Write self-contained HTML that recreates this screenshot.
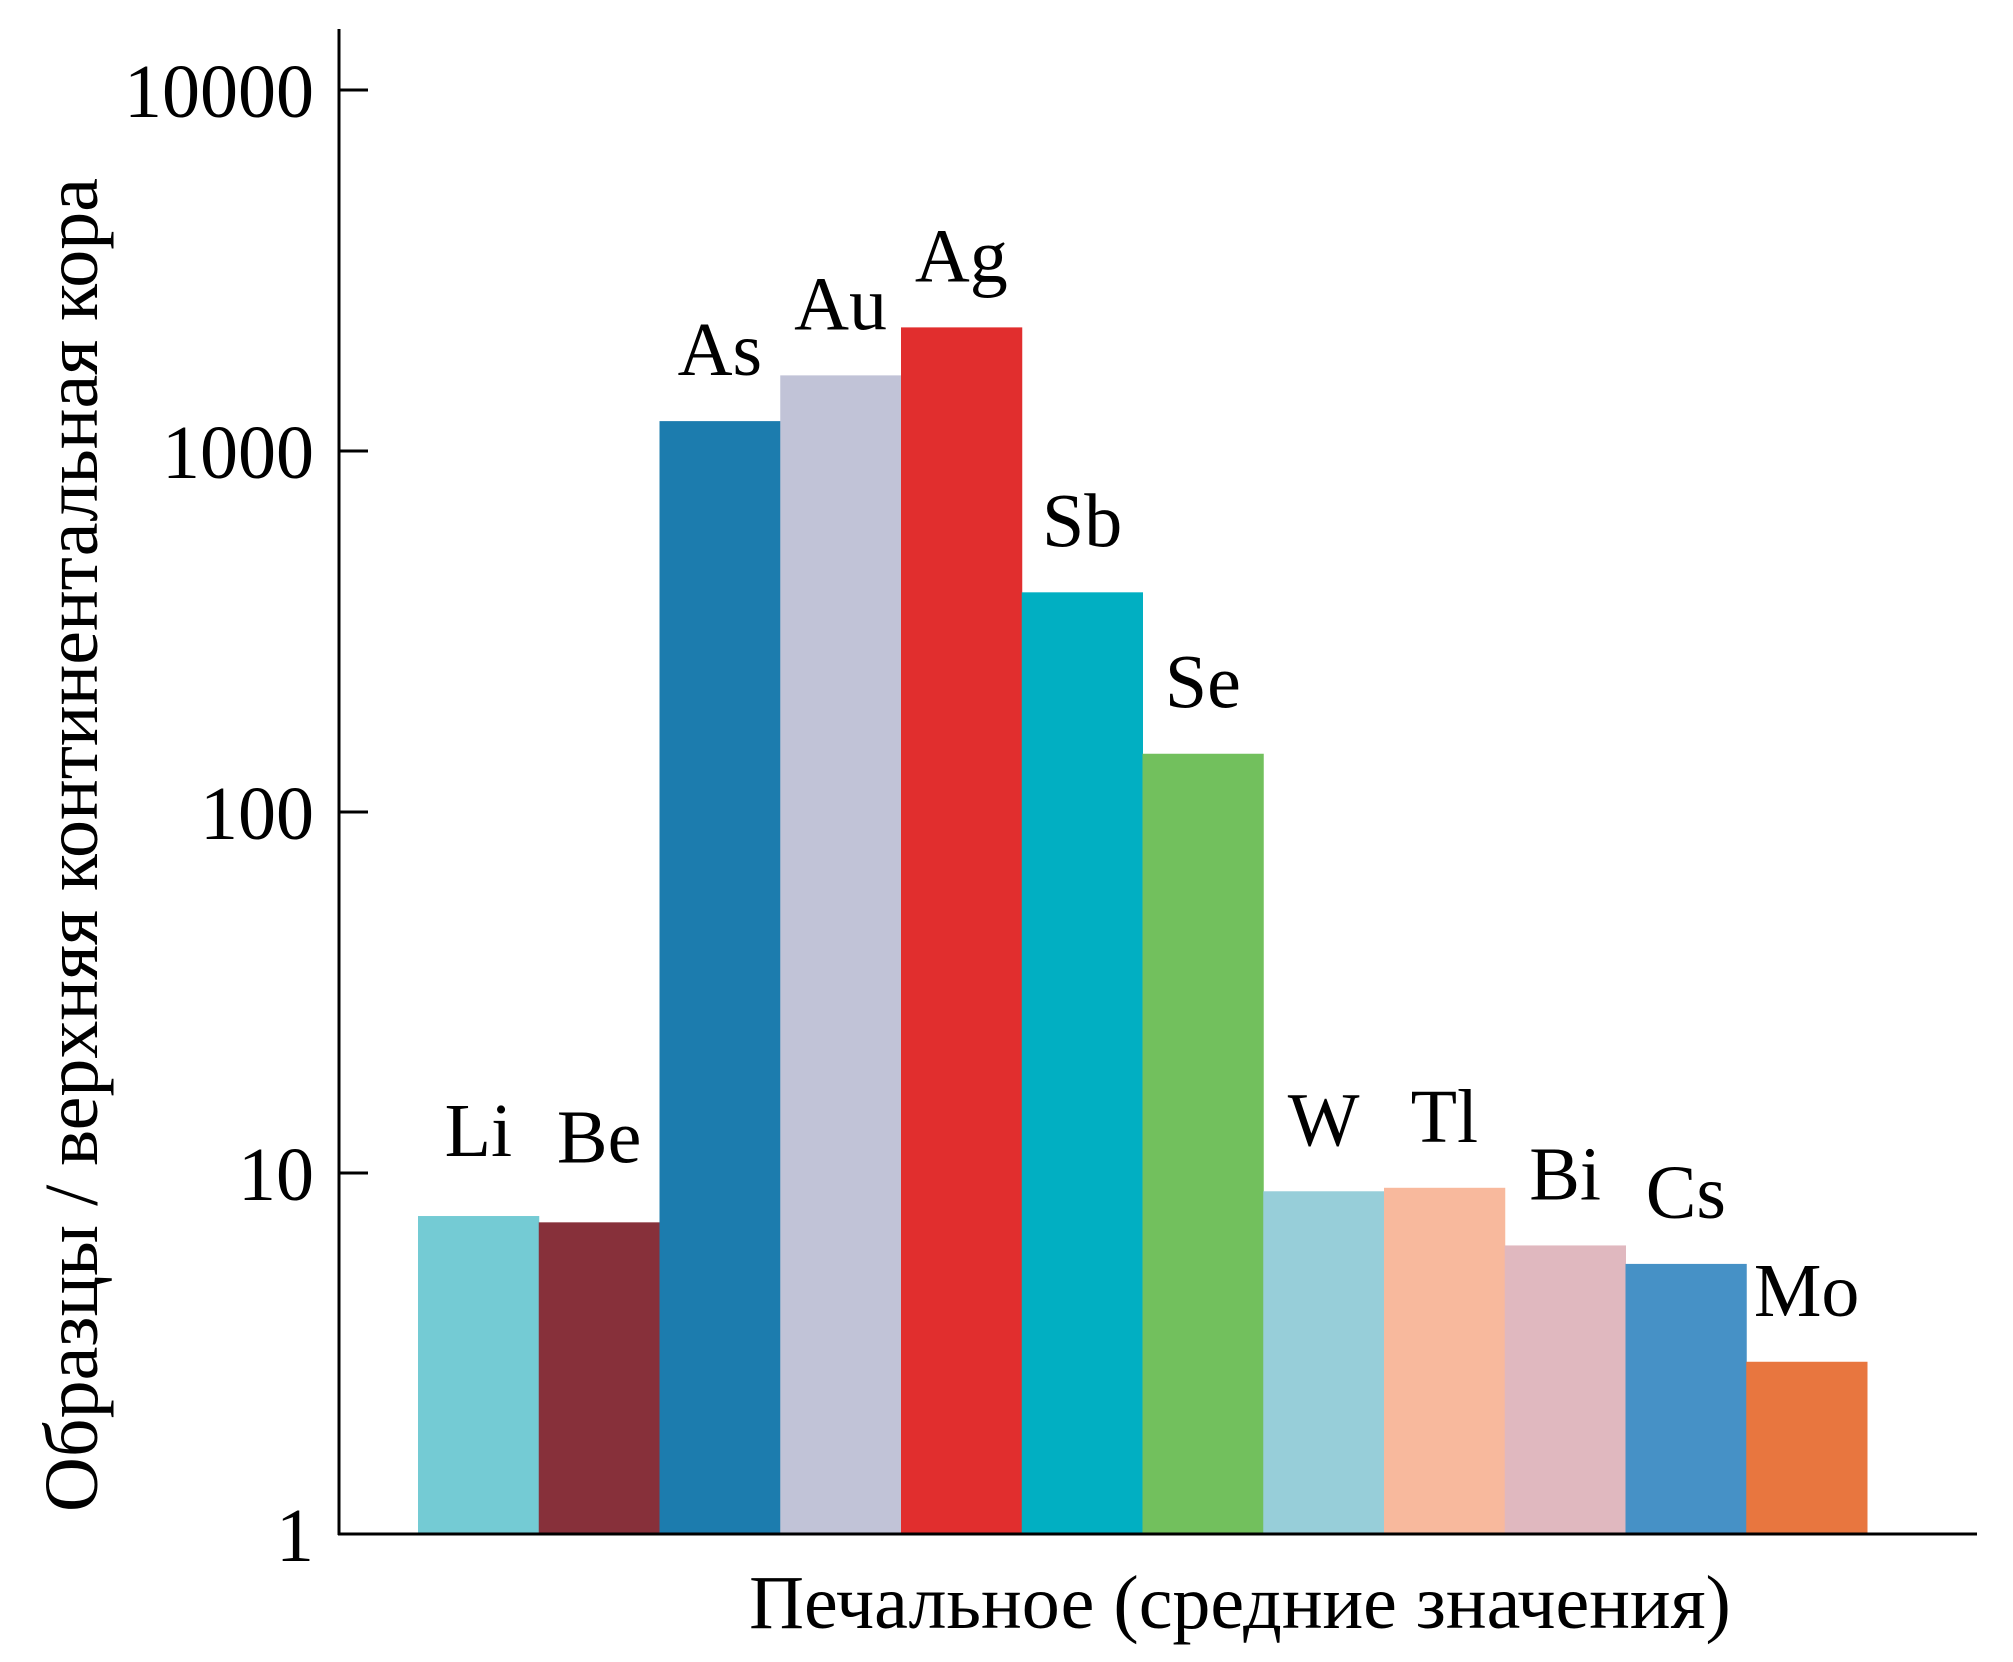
<!DOCTYPE html>
<html><head><meta charset="utf-8"><style>
body{margin:0;background:#fff}
svg{display:block}
text{font-family:"Liberation Serif","DejaVu Serif",serif;fill:#000}
</style></head><body>
<svg id="chart" width="2013" height="1662" viewBox="0 0 2013 1662" xmlns="http://www.w3.org/2000/svg">
<g id="bars"></g>
<g id="labels"></g>
<line x1="339" y1="29" x2="339" y2="1535" stroke="#000" stroke-width="3"/>
<line x1="338" y1="1534" x2="1977" y2="1534" stroke="#000" stroke-width="3"/>
<g id="ticks"></g>
<text transform="translate(97,845) rotate(-90)" text-anchor="middle" font-size="76">Образцы / верхняя континентальная кора</text>
<text x="1240" y="1628" text-anchor="middle" font-size="76">Печальное (средние значения)</text>
</svg>
<script>
const categories = ["Li","Be","As","Au","Ag","Sb","Se","W","Tl","Bi","Cs","Mo"];
const values = [7.6, 7.3, 1210, 1620, 2200, 406, 145, 8.9, 9.1, 6.3, 5.6, 3.0];
const colors = ["#74cbd4","#87303a","#1c7cae","#c1c3d7","#e12e2e","#01afc2","#72c05d","#97ced9","#f8b99d","#e0b8bf","#4691c6","#e8763f"];
const tickValues = [1, 10, 100, 1000, 10000];
const tickLabels = ["1","10","100","1000","10000"];

const NS = "http://www.w3.org/2000/svg";
const yBase = 1534, yTop10k = 90;
const decade = (yBase - yTop10k) / 4;
function yScale(v){ return yBase - Math.log10(v) * decade; }
const xStart = 418, xEnd = 1867;
const bw = (xEnd - xStart) / categories.length;
function xScale(i){ return xStart + i * bw; }

const gb = document.getElementById('bars');
const gl = document.getElementById('labels');
categories.forEach((c, i) => {
  const r = document.createElementNS(NS, 'rect');
  const y = yScale(values[i]);
  r.setAttribute('x', xScale(i));
  r.setAttribute('y', y);
  r.setAttribute('width', bw + 0.5);
  r.setAttribute('height', yBase - y);
  r.setAttribute('fill', colors[i]);
  
  
  gb.appendChild(r);
  const t = document.createElementNS(NS, 'text');
  t.setAttribute('x', xScale(i) + bw / 2);
  t.setAttribute('y', y - (i < 2 ? 60 : 46));
  t.setAttribute('text-anchor', 'middle');
  t.setAttribute('font-size', '76');
  t.textContent = c;
  
  
  gl.appendChild(t);
});

const gt = document.getElementById('ticks');
tickValues.forEach((v, i) => {
  const y = yScale(v);
  if (v > 1) {
    const l = document.createElementNS(NS, 'line');
    l.setAttribute('x1', 339); l.setAttribute('x2', 368);
    l.setAttribute('y1', y); l.setAttribute('y2', y);
    l.setAttribute('stroke', '#000'); l.setAttribute('stroke-width', '3');
    
    
    gt.appendChild(l);
  }
  const t = document.createElementNS(NS, 'text');
  t.setAttribute('x', 314);
  t.setAttribute('y', y + 27);
  t.setAttribute('text-anchor', 'end');
  t.setAttribute('font-size', '76');
  t.textContent = tickLabels[i];
  
  
  gt.appendChild(t);
});
</script>
</body></html>
